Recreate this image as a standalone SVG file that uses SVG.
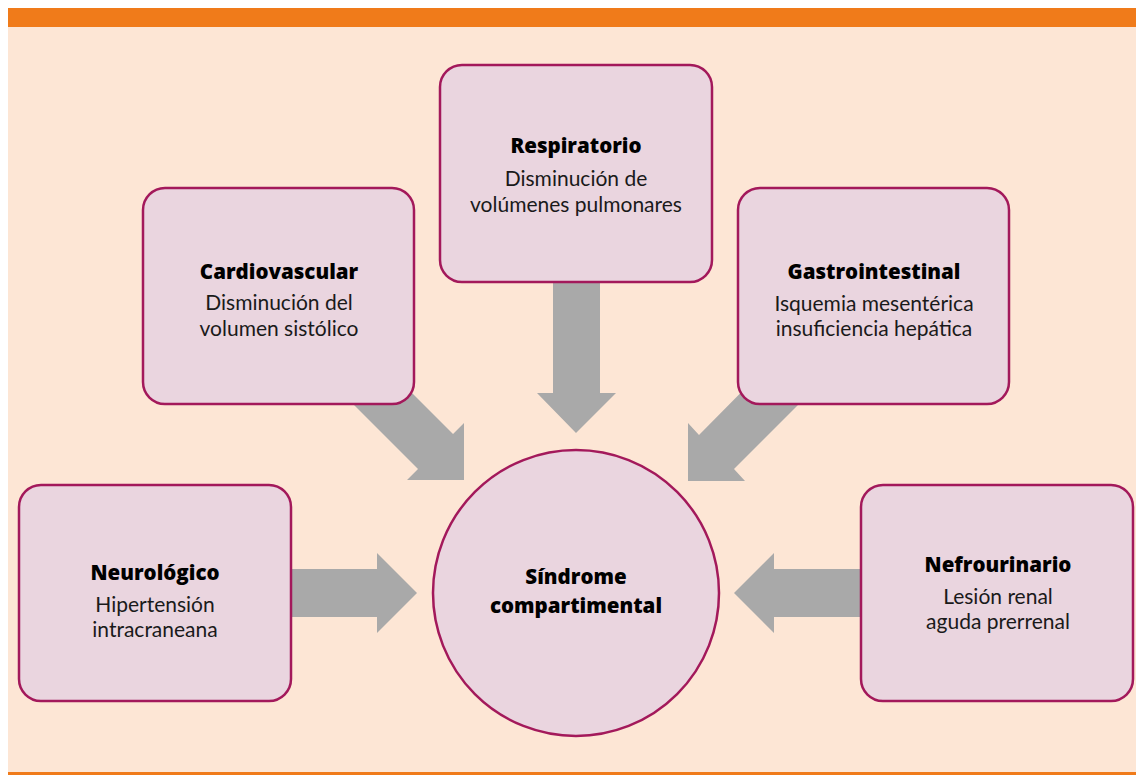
<svg xmlns="http://www.w3.org/2000/svg" width="1136" height="775" viewBox="0 0 1136 775">
<style>
.box{fill:#ead5df;stroke:#a3195b;stroke-width:2.5}
.arr{fill:#a9a9a9}
.h{font-family:"Open Sans",Lato,sans-serif;font-weight:800;font-size:20.5px;fill:#000;text-anchor:middle}
.t{font-family:Lato,"Open Sans",sans-serif;font-weight:400;font-size:21px;fill:#1a1a1a;text-anchor:middle}
</style>
<rect x="0" y="0" width="1136" height="775" fill="#ffffff"/>
<rect x="8" y="8" width="1128" height="767" fill="#fde6d5"/>
<rect x="8" y="8" width="1128" height="19" fill="#f07b1a"/>
<rect x="8" y="772" width="1128" height="3" fill="#f07b1a"/>
<g id="connectors">
<polygon class="arr" points="553,270 600,270 600,393 616,393 576,433 537,393 553,393"/>
<polygon class="arr" points="280,569 377,569 377,553 417,593 377,633 377,617 280,617"/>
<polygon class="arr" points="872,569 774,569 774,553 734,593 774,633 774,617 872,617"/>
<polygon class="arr" points="453,434 464,423 464,480 407,480 418,469 340,391 375,356"/>
<polygon class="arr" points="699,435 688,423 688,481 745,481 734,469 812,391 777,356"/>
</g>
<g id="respiratorio">
<rect class="box" x="440" y="65" width="272" height="217" rx="22"/>
<text class="h" x="576" y="153">Respiratorio</text>
<text class="t" x="576" y="186">Disminución de</text>
<text class="t" x="576" y="212">volúmenes pulmonares</text>
</g>
<g id="cardiovascular">
<rect class="box" x="143" y="188" width="271" height="216" rx="22"/>
<text class="h" x="279" y="279">Cardiovascular</text>
<text class="t" x="279" y="310">Disminución del</text>
<text class="t" x="279" y="336">volumen sistólico</text>
</g>
<g id="gastrointestinal">
<rect class="box" x="738" y="188" width="271" height="216" rx="22"/>
<text class="h" x="874" y="279">Gastrointestinal</text>
<text class="t" x="874" y="311">Isquemia mesentérica</text>
<text class="t" x="874" y="336">insuficiencia hepática</text>
</g>
<g id="neurologico">
<rect class="box" x="19" y="485" width="272" height="216" rx="22"/>
<text class="h" x="155" y="580">Neurológico</text>
<text class="t" x="155" y="612">Hipertensión</text>
<text class="t" x="155" y="637">intracraneana</text>
</g>
<g id="nefrourinario">
<rect class="box" x="861" y="485" width="272" height="216" rx="22"/>
<text class="h" x="998" y="572">Nefrourinario</text>
<text class="t" x="998" y="604">Lesión renal</text>
<text class="t" x="998" y="629">aguda prerrenal</text>
</g>
<g id="sindrome">
<circle class="box" cx="576" cy="593" r="143"/>
<text class="h" x="576" y="584">Síndrome</text>
<text class="h" x="576" y="613">compartimental</text>
</g>
</svg>
